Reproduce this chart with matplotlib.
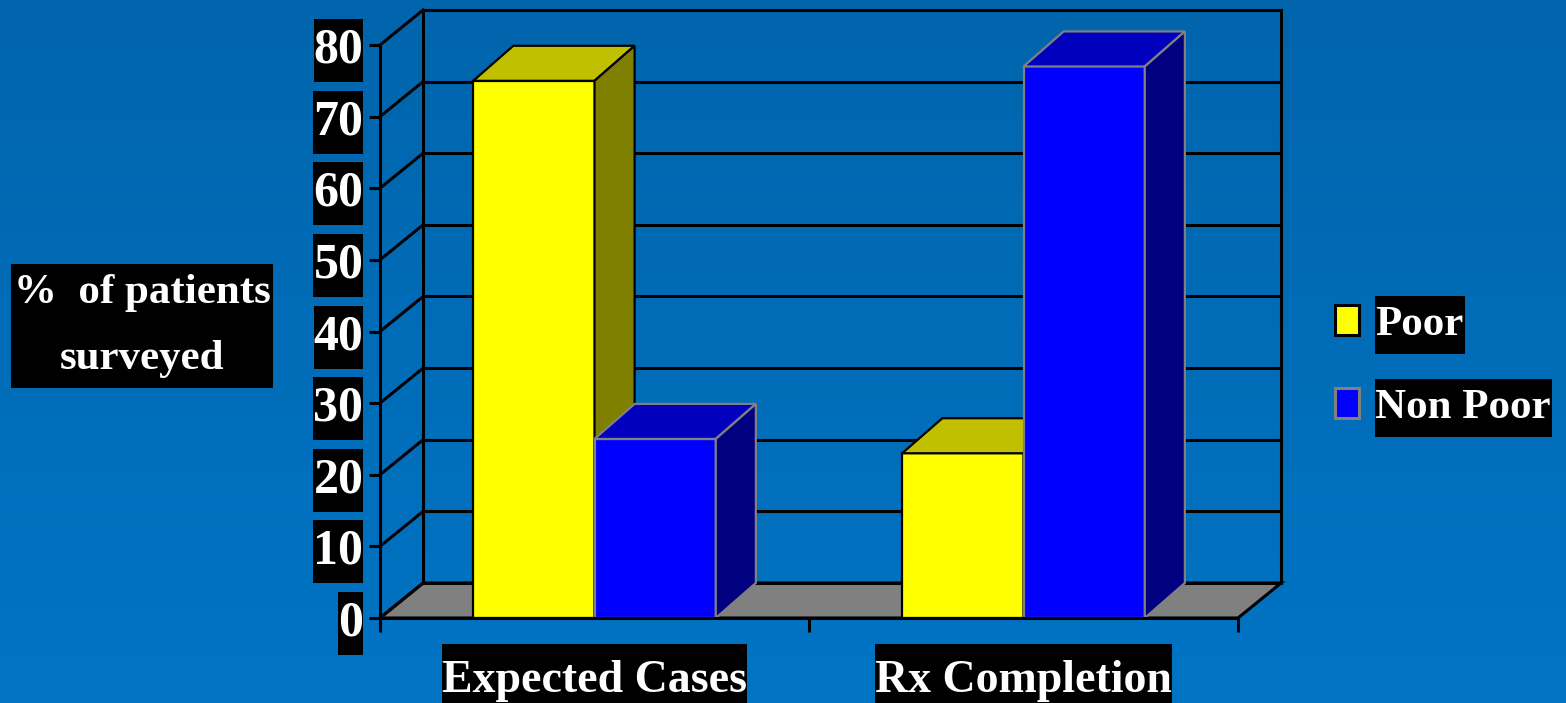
import numpy as np
import matplotlib.pyplot as plt
from matplotlib.patches import Polygon, Patch
from matplotlib.path import Path
from matplotlib.colors import LinearSegmentedColormap

categories = ["Expected Cases", "Rx Completion"]
series = ["Poor", "Non Poor"]
poor = [75, 23]
non_poor = [25, 77]
y_ticks = [0, 10, 20, 30, 40, 50, 60, 70, 80]
y_label = "%  of patients\nsurveyed"

# front, top, side, edge
colors = {"Poor": ("#FFFF00", "#C0C000", "#808000", "black"),
          "Non Poor": ("#0000FF", "#0000BE", "#000080", "#808080")}

plt.rcParams["font.family"] = ["Liberation Serif", "DejaVu Serif"]
plt.rcParams["font.weight"] = "bold"


def black_box(padx, pady):
    # label box with separate horizontal / vertical padding
    def style(x0, y0, width, height, mutation_size):
        px, py = padx * mutation_size, pady * mutation_size
        return Path([(x0 - px, y0 - py), (x0 + width + px, y0 - py),
                     (x0 + width + px, y0 + height + py), (x0 - px, y0 + height + py),
                     (x0 - px, y0 - py)], closed=True)
    return dict(boxstyle=style, facecolor="black", edgecolor="none")


W, H = 1566, 703
fig = plt.figure(figsize=(W / 100, H / 100), dpi=100)

# background gradient
bg = fig.add_axes([0, 0, 1, 1], zorder=-10)
cmap = LinearSegmentedColormap.from_list("bg", ["#0065AC", "#0074C4"])
bg.imshow(np.linspace(0, 1, 256).reshape(-1, 1), aspect="auto", cmap=cmap,
          extent=[0, 1, 0, 1], origin="upper")
bg.axis("off")

ax = fig.add_axes([380 / W, (H - 618) / H, (1238 - 380) / W, (618 - 45) / H])
ax.set_xlim(0, 2)
ax.set_ylim(0, 80)
ax.patch.set_visible(False)

# depth of the 3d box, data units
dx, dy = 43 / 428, 4.89
bdx, bdy = 40 / 428, 4.89
lw = 2.2

# floor
ax.add_patch(Polygon([(0, 0), (2, 0), (2 + dx, dy), (dx, dy)], closed=True,
                     facecolor="#808080", edgecolor="black", lw=lw, clip_on=False, zorder=1))
# walls
for v in y_ticks:
    ax.plot([0, dx], [v, v + dy], color="black", lw=lw, clip_on=False, zorder=1.5)
    ax.plot([dx, 2 + dx], [v + dy, v + dy], color="black", lw=lw, clip_on=False, zorder=1.5)
for xv in [dx, 2 + dx]:
    ax.plot([xv, xv], [dy, y_ticks[-1] + dy], color="black", lw=lw, clip_on=False, zorder=1.5)

# bars
w = 121 / 428
centers = np.arange(len(categories)) + 0.5
z = 3
for i, c in enumerate(centers):
    for j, (name, vals) in enumerate(zip(series, [poor, non_poor])):
        front, top, side, edge = colors[name]
        x0 = c - w + j * w
        h = vals[i]
        ax.add_patch(Polygon([(x0, 0), (x0 + w, 0), (x0 + w, h), (x0, h)],
                             facecolor=front, edgecolor=edge, lw=1.6, zorder=z, clip_on=False))
        ax.add_patch(Polygon([(x0, h), (x0 + w, h), (x0 + w + bdx, h + bdy), (x0 + bdx, h + bdy)],
                             facecolor=top, edgecolor=edge, lw=1.6, zorder=z, clip_on=False))
        ax.add_patch(Polygon([(x0 + w, 0), (x0 + w + bdx, bdy), (x0 + w + bdx, h + bdy), (x0 + w, h)],
                             facecolor=side, edgecolor=edge, lw=1.6, zorder=z, clip_on=False))
        z += 1

for s in ["top", "right"]:
    ax.spines[s].set_visible(False)
for s in ["left", "bottom"]:
    ax.spines[s].set_linewidth(lw)
    ax.spines[s].set_zorder(20)

ax.set_yticks(y_ticks)
ax.tick_params(axis="y", length=8, width=lw, pad=4, labelsize=36, labelcolor="white")
ax.set_xticks([0, 1, 2])
ax.set_xticklabels([])
ax.tick_params(axis="x", which="major", length=10, width=lw)
ax.set_xticks(centers, minor=True)
ax.set_xticklabels(categories, minor=True)
ax.tick_params(axis="x", which="minor", length=0, pad=30, labelsize=33, labelcolor="white")
for lbl in ax.get_yticklabels():
    lbl.set_bbox(black_box(0.0, 0.17))
for lbl in ax.get_xticklabels(minor=True):
    lbl.set_bbox(black_box(0.0, 0.35))

fig.text(142 / W, 1 - 326 / H, y_label, ha="center", va="center", color="white",
         fontsize=31, linespacing=1.95, multialignment="center",
         bbox=black_box(0.05, 0.24))

handles = [Patch(facecolor=colors[s][0], edgecolor=colors[s][3], lw=2.2) for s in series]
leg = fig.legend(handles, series, loc="center left", bbox_to_anchor=(1335 / W, 1 - 366 / H),
                 frameon=False, fontsize=31, handlelength=0.56, handleheight=0.68,
                 handletextpad=0.38, labelspacing=1.02, borderpad=0, borderaxespad=0)
for t in leg.get_texts():
    t.set_color("white")
    t.set_bbox(black_box(0.02, 0.24))

fig.savefig("out.png", dpi=100)
